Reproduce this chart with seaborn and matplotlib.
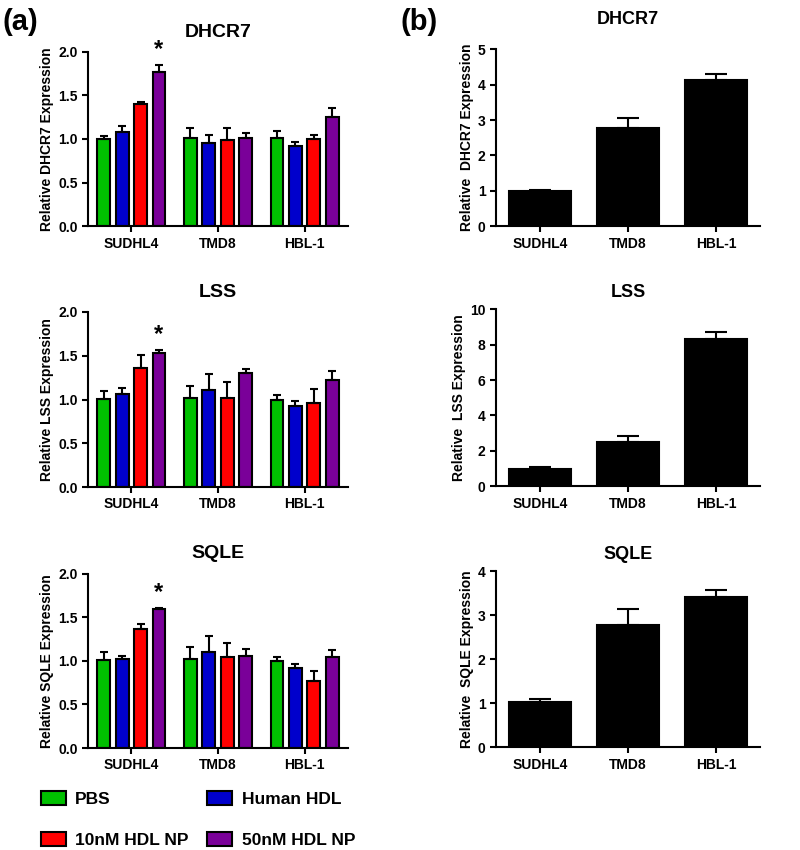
import numpy as np
import pandas as pd
import matplotlib
matplotlib.use("Agg")
import matplotlib.pyplot as plt
import seaborn as sns

cells = ["SUDHL4", "TMD8", "HBL-1"]
treatments = ["PBS", "Human HDL", "10nM HDL NP", "50nM HDL NP"]
colors = ["#00c000", "#0000cc", "#ff0000", "#7a0099"]

# panel (a): one row per cell line, columns follow treatments
dhcr7_a = [[1.00, 1.08, 1.40, 1.77], [1.01, 0.95, 0.99, 1.01], [1.01, 0.92, 1.00, 1.25]]
dhcr7_a_err = [[0.03, 0.07, 0.03, 0.08], [0.12, 0.09, 0.14, 0.06], [0.08, 0.04, 0.04, 0.10]]
lss_a = [[1.01, 1.06, 1.36, 1.53], [1.02, 1.11, 1.02, 1.30], [1.00, 0.93, 0.96, 1.22]]
lss_a_err = [[0.09, 0.07, 0.15, 0.04], [0.13, 0.18, 0.18, 0.05], [0.05, 0.05, 0.16, 0.11]]
sqle_a = [[1.01, 1.02, 1.37, 1.59], [1.02, 1.10, 1.04, 1.06], [1.00, 0.92, 0.77, 1.04]]
sqle_a_err = [[0.09, 0.04, 0.05, 0.02], [0.14, 0.18, 0.16, 0.08], [0.05, 0.04, 0.11, 0.09]]

# panel (b): basal expression per cell line
dhcr7_b = [1.00, 2.77, 4.13]
dhcr7_b_err = [0.03, 0.30, 0.16]
lss_b = [1.00, 2.50, 8.30]
lss_b_err = [0.06, 0.35, 0.40]
sqle_b = [1.02, 2.77, 3.42]
sqle_b_err = [0.08, 0.38, 0.16]

sns.set_theme(style="ticks")
plt.rcParams["font.family"] = ["Liberation Sans", "DejaVu Sans"]
plt.rcParams["font.weight"] = "bold"
plt.rcParams["text.color"] = "black"
plt.rcParams["axes.labelcolor"] = "black"
plt.rcParams["axes.edgecolor"] = "black"
plt.rcParams["xtick.color"] = "black"
plt.rcParams["ytick.color"] = "black"
plt.rcParams["axes.linewidth"] = 1.5
plt.rcParams["xtick.major.width"] = 1.5
plt.rcParams["ytick.major.width"] = 1.5
plt.rcParams["xtick.major.size"] = 4
plt.rcParams["ytick.major.size"] = 4

fig = plt.figure(figsize=(8, 8.5), dpi=100)


def style_axis(ax, title, ylabel, ymax, step, fmt, tsize=14, pad=11):
    ax.set_title(title, fontsize=tsize, fontweight="bold", pad=pad)
    ax.set_ylabel(ylabel, fontsize=10, fontweight="bold", labelpad=3)
    ax.set_xlabel("")
    ax.set_xlim(-0.5, 2.5)
    ax.set_ylim(0, ymax)
    ticks = np.arange(0, ymax + step / 2, step)
    ax.set_yticks(ticks)
    ax.set_yticklabels([fmt.format(t) for t in ticks], fontsize=10, fontweight="bold")
    ax.set_xticks(range(len(cells)))
    ax.set_xticklabels(cells, fontsize=10, fontweight="bold")
    sns.despine(ax=ax)


def grouped_panel(rect, title, gene, means, errs):
    ax = fig.add_axes(rect)
    rows = []
    for i, c in enumerate(cells):
        for j, t in enumerate(treatments):
            rows.append({"cell": c, "treatment": t, "value": means[i][j], "err": errs[i][j]})
    df = pd.DataFrame(rows)
    sns.barplot(data=df, x="cell", y="value", hue="treatment", hue_order=treatments,
                palette=colors, saturation=1, order=cells, width=0.85, gap=0.3,
                errorbar=None, edgecolor="black", linewidth=1.5, legend=False, ax=ax)
    bars = list(ax.containers)
    for j, cont in enumerate(bars):
        xs = [p.get_x() + p.get_width() / 2 for p in cont.patches]
        ys = [means[i][j] for i in range(len(cells))]
        es = [errs[i][j] for i in range(len(cells))]
        ax.errorbar(xs, ys, yerr=[np.zeros(len(es)), es], fmt="none",
                    ecolor="black", elinewidth=1.5, capsize=3, capthick=1.5, zorder=1)
    # significance star on 50nM SUDHL4
    p = bars[3].patches[0]
    ax.text(p.get_x() + p.get_width() / 2, means[0][3] + errs[0][3] + 0.04, "*",
            ha="center", va="bottom", fontsize=17, fontweight="bold")
    style_axis(ax, title, f"Relative {gene} Expression", 2.0, 0.5, "{:.1f}")
    return ax, bars


def single_panel(rect, title, gene, means, errs, ymax, step, pad):
    ax = fig.add_axes(rect)
    df = pd.DataFrame({"cell": cells, "value": means})
    sns.barplot(data=df, x="cell", y="value", order=cells, color="black", saturation=1,
                width=0.7, errorbar=None, edgecolor="black", linewidth=1.5, ax=ax)
    xs = [p.get_x() + p.get_width() / 2 for p in ax.containers[0].patches]
    ax.errorbar(xs, means, yerr=[np.zeros(len(errs)), errs], fmt="none",
                ecolor="black", elinewidth=1.5, capsize=8, capthick=1.5, zorder=1)
    style_axis(ax, title, f"Relative  {gene} Expression", ymax, step, "{:.0f}",
               tsize=13, pad=pad)
    return ax


ax1, bars1 = grouped_panel([0.11, 0.734, 0.325, 0.205], "DHCR7", "DHCR7", dhcr7_a, dhcr7_a_err)
grouped_panel([0.11, 0.427, 0.325, 0.206], "LSS", "LSS", lss_a, lss_a_err)
grouped_panel([0.11, 0.12, 0.325, 0.205], "SQLE", "SQLE", sqle_a, sqle_a_err)

single_panel([0.62, 0.734, 0.33, 0.208], "DHCR7", "DHCR7", dhcr7_b, dhcr7_b_err, 5, 1, 18)
single_panel([0.62, 0.428, 0.33, 0.208], "LSS", "LSS", lss_b, lss_b_err, 10, 2, 9)
single_panel([0.62, 0.121, 0.33, 0.207], "SQLE", "SQLE", sqle_b, sqle_b_err, 4, 1, 9)

fig.text(0.003, 0.974, "(a)", fontsize=21, fontweight="bold", va="center")
fig.text(0.5, 0.974, "(b)", fontsize=21, fontweight="bold", va="center")

# legend: PBS / Human HDL on first row, 10nM / 50nM on second
handles = [bars1[k] for k in (0, 2, 1, 3)]
labels = [treatments[k] for k in (0, 2, 1, 3)]
fig.legend(handles, labels, loc="upper left", bbox_to_anchor=(0.042, 0.077),
           ncol=2, frameon=False, prop={"weight": "bold", "size": 12.5},
           handlelength=1.45, handleheight=0.8, labelspacing=1.45, columnspacing=1.05,
           handletextpad=0.55, borderaxespad=0)

fig.savefig("out.png", dpi=100, facecolor="white")
